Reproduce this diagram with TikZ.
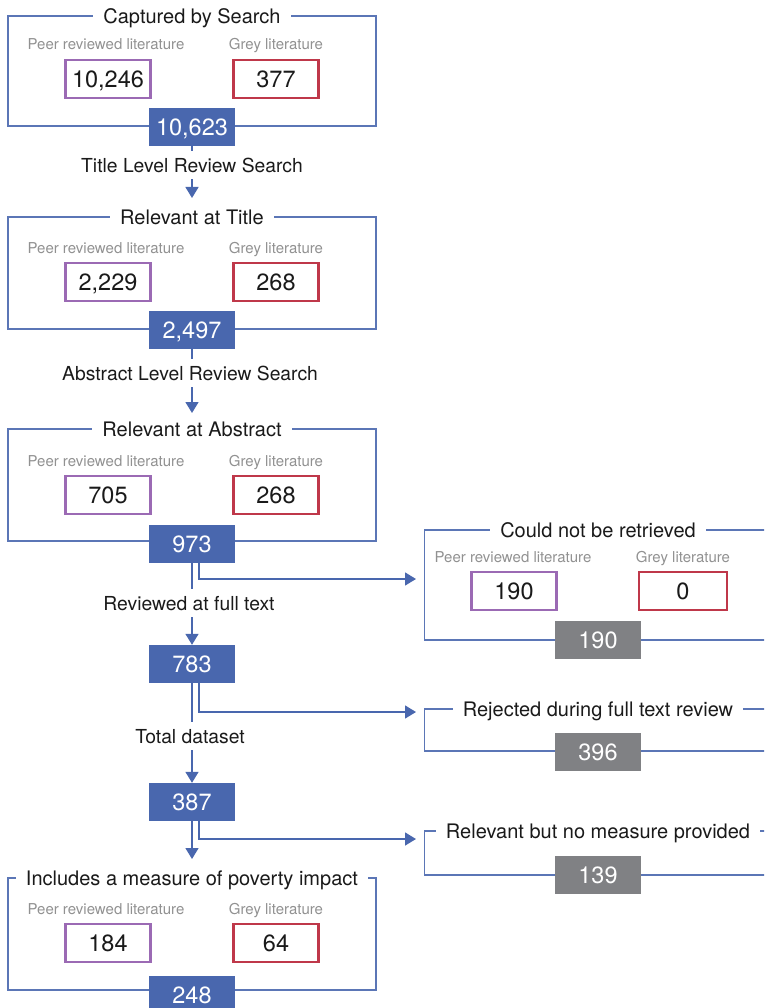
\documentclass[tikz,border=0pt]{standalone}
\usepackage{fontspec}
\setmainfont{TeX Gyre Heros}
\usetikzlibrary{arrows.meta}

\definecolor{flowblue}{RGB}{73,103,174}
\definecolor{peerpurple}{RGB}{155,106,180}
\definecolor{greyred}{RGB}{191,56,74}
\definecolor{boxgrey}{RGB}{128,129,132}
\definecolor{labelgrey}{RGB}{145,145,145}
\definecolor{inktext}{RGB}{26,26,26}

\tikzset{
  stagebox/.style={draw=flowblue!90, line width=1.3pt, minimum width=368pt, inner sep=0pt},
  frametitle/.style={fill=white, text=inktext, inner xsep=10pt, inner ysep=3pt, text depth=0pt, font=\fontsize{20}{23}\selectfont},
  sublabel/.style={text=labelgrey, inner sep=0pt, text depth=0pt, font=\fontsize{15}{18}\selectfont},
  peerbox/.style={draw=peerpurple, fill=white, text=inktext, line width=2.5pt, minimum width=85pt, minimum height=38pt, text depth=0pt, font=\fontsize{23.5}{26}\selectfont},
  greybox/.style={peerbox, draw=greyred},
  totalbox/.style={fill=flowblue, text=white, minimum width=86pt, minimum height=38pt, text depth=0pt, font=\fontsize{23.5}{26}\selectfont},
  droppedbox/.style={totalbox, fill=boxgrey},
  steplabel/.style={text=inktext, inner xsep=0pt, inner ysep=7pt, text depth=0pt, font=\fontsize{19.3}{22}\selectfont},
  conn/.style={draw=flowblue, line width=1.5pt},
  arr/.style={conn, -{Triangle[width=13pt,length=11pt]}},
}

\begin{document}
\begin{tikzpicture}[x=1pt,y=-1pt]
    \useasboundingbox (0,0) rectangle (764,1008);
    \clip (0,0) rectangle (764,1008);

    % captured by search
    \node[stagebox, minimum height=110pt] (s1) at (192,71) {};
    \node[frametitle] (s1t) at (192,16) {Captured by Search};
    \node[sublabel] (s1pl) at (106,44) {Peer reviewed literature};
    \node[sublabel] (s1gl) at (276,44) {Grey literature};
    \node[peerbox] (s1p) at (108,79) {10,246};
    \node[greybox] (s1g) at (276,79) {377};
    \node[totalbox] (s1n) at (192,127) {10,623};
    \node[steplabel] (l1) at (192,165) {Title Level Review Search};
    \coordinate (tip1) at (192,198);
    \draw[conn] (s1n.south) -- (l1.north);
    \draw[arr] (l1.south) -- (tip1);

    % relevant at title
    \node[stagebox, minimum height=112pt] (s2) at (192,273) {};
    \node[frametitle] (s2t) at (192,217) {Relevant at Title};
    \node[sublabel] (s2pl) at (106,248) {Peer reviewed literature};
    \node[sublabel] (s2gl) at (276,248) {Grey literature};
    \node[peerbox] (s2p) at (108,282) {2,229};
    \node[greybox] (s2g) at (276,282) {268};
    \node[totalbox] (s2n) at (192,330) {2,497};
    \node[steplabel] (l2) at (190,373) {Abstract Level Review Search};
    \coordinate (tip2) at (192,413);
    \draw[conn] (s2n.south) -- (s2n.south |- l2.north);
    \draw[arr] (s2n.south |- l2.south) -- (tip2);

    % relevant at abstract
    \node[stagebox, minimum height=112pt] (s3) at (192,485) {};
    \node[frametitle] (s3t) at (192,429) {Relevant at Abstract};
    \node[sublabel] (s3pl) at (106,461) {Peer reviewed literature};
    \node[sublabel] (s3gl) at (276,461) {Grey literature};
    \node[peerbox] (s3p) at (108,495) {705};
    \node[greybox] (s3g) at (276,495) {268};
    \node[totalbox] (s3n) at (192,544) {973};
    \node[steplabel] (l3) at (189,603) {Reviewed at full text};
    \node[totalbox] (n783) at (192,664) {783};
    \draw[conn] (s3n.south) -- (s3n.south |- l3.north);
    \draw[arr] (s3n.south |- l3.south) -- (n783.north);

    % could not be retrieved
    \node[stagebox, minimum width=375pt, minimum height=110pt] (r1) at (612,585) {};
    \node[frametitle] (r1t) at (598,530) {Could not be retrieved};
    \node[sublabel] (r1pl) at (513,557) {Peer reviewed literature};
    \node[sublabel] (r1gl) at (683,557) {Grey literature};
    \node[peerbox] (r1p) at (514,591) {190};
    \node[greybox, minimum width=88pt] (r1g) at (683,591) {0};
    \node[droppedbox] (r1n) at (598,640) {190};
    \coordinate (r1in) at (416,579);
    \draw[arr] ([xshift=7pt]s3n.south) |- (r1in);

    % full text review
    \node[steplabel] (l4) at (190,736) {Total dataset};
    \node[totalbox] (n387) at (192,802) {387};
    \draw[conn] (n783.south) -- (n783.south |- l4.north);
    \draw[arr] (n783.south |- l4.south) -- (n387.north);

    \node[stagebox, minimum width=375pt, minimum height=42pt] (r2) at (612,730) {};
    \node[frametitle] (r2t) at (598,709) {Rejected during full text review};
    \node[droppedbox] (r2n) at (598,752) {396};
    \coordinate (r2in) at (416,712);
    \draw[arr] ([xshift=7pt]n783.south) |- (r2in);

    \node[stagebox, minimum width=375pt, minimum height=44pt] (r3) at (612,853) {};
    \node[frametitle] (r3t) at (598,831) {Relevant but no measure provided};
    \node[droppedbox] (r3n) at (598,875) {139};
    \coordinate (r3in) at (416,839);
    \draw[arr] ([xshift=7pt]n387.south) |- (r3in);

    % includes a measure of poverty impact
    \coordinate (tip4) at (192,859);
    \draw[arr] (n387.south) -- (tip4);
    \node[stagebox, minimum height=112pt] (s4) at (192,934) {};
    \node[frametitle] (s4t) at (192,878) {Includes a measure of poverty impact};
    \node[sublabel] (s4pl) at (106,909) {Peer reviewed literature};
    \node[sublabel] (s4gl) at (276,909) {Grey literature};
    \node[peerbox] (s4p) at (108,943) {184};
    \node[greybox] (s4g) at (276,943) {64};
    \node[totalbox] (s4n) at (192,995) {248};
\end{tikzpicture}
\end{document}
